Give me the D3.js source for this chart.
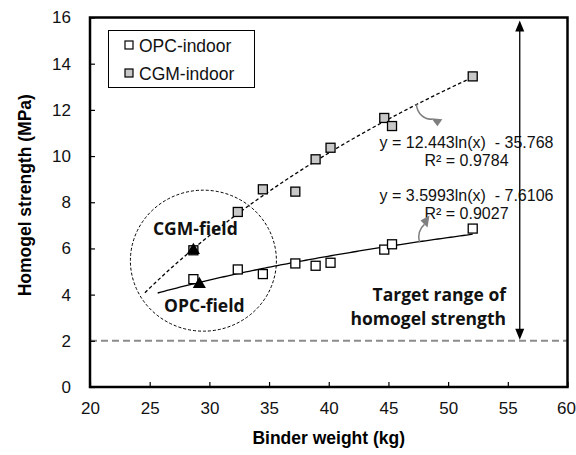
<!DOCTYPE html>
<html><head><meta charset="utf-8">
<script src="https://cdn.jsdelivr.net/npm/d3@7"></script>
<style>
html,body{margin:0;padding:0;background:#fff;}
svg{display:block;font-family:"Liberation Sans",Arial,sans-serif;}
</style></head>
<body>
<script>
// ---- data ----
const xTicks = [20,25,30,35,40,45,50,55,60];
const yTicks = [0,2,4,6,8,10,12,14,16];
const opcIndoorX = [28.66,32.38,34.48,37.2,38.9,40.15,44.65,45.3,52.06];
const opcIndoorY = [4.67,5.09,4.89,5.35,5.25,5.38,5.95,6.18,6.86];
const cgmIndoorX = [28.66,32.38,34.48,37.2,38.9,40.15,44.65,45.3,52.06];
const cgmIndoorY = [5.92,7.58,8.56,8.46,9.86,10.36,11.65,11.3,13.45];
const fieldLabels = ["CGM-field","OPC-field"];
const fieldX = [28.66,29.16];
const fieldY = [5.92,4.45];
const cgmFit = {a:12.443, b:-35.768, from:24.6, to:52.06};
const opcFit = {a:3.5993, b:-7.6106, from:25.67, to:52.06};
const eqTexts = ["y = 12.443ln(x)  - 35.768","R² = 0.9784","y = 3.5993ln(x)  - 7.6106","R² = 0.9027"];
const targetLevel = 2;
const targetTop = 16;
const targetX = 56;
const legendLabels = ["OPC-indoor","CGM-indoor"];

// ---- layout ----
const W=576,H=455;
const x = d3.scaleLinear().domain([20,60]).range([90,567.5]);
const y = d3.scaleLinear().domain([0,16]).range([387,17.5]);
const svg = d3.select("body").append("svg").attr("width",W).attr("height",H);

// target dashed line
svg.append("line").attr("x1",x(20)).attr("x2",x(60)).attr("y1",y(targetLevel)).attr("y2",y(targetLevel))
  .attr("stroke","#8c8c8c").attr("stroke-width",2).attr("stroke-dasharray","7,4");

// axes
const xAxis = d3.axisBottom(x).tickValues(xTicks).tickSizeInner(-5).tickSizeOuter(0).tickPadding(15);
const yAxis = d3.axisLeft(y).tickValues(yTicks).tickSizeInner(-5).tickSizeOuter(0).tickPadding(19);
const gx = svg.append("g").attr("transform",`translate(0,${y(0)})`).call(xAxis);
const gy = svg.append("g").attr("transform",`translate(${x(20)},0)`).call(yAxis);
[gx,gy].forEach(g=>{
  g.attr("font-family",null).attr("font-size",null);
  g.select(".domain").remove();
  g.selectAll(".tick line").attr("stroke","#000").attr("stroke-width",1.2);
  g.selectAll(".tick text").style("font-size","17px").attr("fill","#111");
});
gx.selectAll(".tick text").attr("dy","0.71em").attr("dx",(d,i)=>i===xTicks.length-1?-1.5:0);
// frame
svg.append("rect").attr("x",x(20)).attr("y",y(16)).attr("width",x(60)-x(20)).attr("height",y(0)-y(16))
  .attr("fill","none").attr("stroke","#000").attr("stroke-width",2.5);

// axis titles
svg.append("text").attr("x",(x(20)+x(60))/2).attr("y",444).attr("text-anchor","middle")
  .style("font-size","17.5px").attr("font-weight","bold").text("Binder weight (kg)");
svg.append("text").attr("transform",`translate(31,${(y(0)+y(16))/2-7}) rotate(-90)`).attr("text-anchor","middle")
  .style("font-size","17.5px").attr("font-weight","bold").text("Homogel strength (MPa)");

// trend lines
function fitPts(f){return d3.range(0,101).map(i=>{const xv=f.from+(f.to-f.from)*i/100;return [xv,f.a*Math.log(xv)+f.b];});}
const line = d3.line().x(d=>x(d[0])).y(d=>y(d[1]));
svg.append("path").attr("d",line(fitPts(cgmFit))).attr("fill","none").attr("stroke","#000").attr("stroke-width",1.3).attr("stroke-dasharray","3.5,2.5");
svg.append("path").attr("d",line(fitPts(opcFit))).attr("fill","none").attr("stroke","#000").attr("stroke-width",1.3);

// dashed circle around field points
const cx = 29.5, cy = 5.47;
svg.append("ellipse").attr("cx",x(cx)).attr("cy",y(cy)).attr("rx",73).attr("ry",70.5)
  .attr("fill","none").attr("stroke","#000").attr("stroke-width",1).attr("stroke-dasharray","3,2");

// markers
const S=9;
function squares(xs,ys,fill){
  svg.append("g").selectAll("rect").data(xs.map((v,i)=>[v,ys[i]])).join("rect")
    .attr("x",d=>x(d[0])-S/2).attr("y",d=>y(d[1])-S/2).attr("width",S).attr("height",S)
    .attr("fill",fill).attr("stroke","#000").attr("stroke-width",1.3);
}
squares(cgmIndoorX,cgmIndoorY,"#c8c8c8");
squares(opcIndoorX,opcIndoorY,"#fff");
svg.append("g").selectAll("path").data(fieldX.map((v,i)=>[v,fieldY[i]])).join("path")
  .attr("d",d3.symbol(d3.symbolTriangle,75)).attr("transform",d=>`translate(${x(d[0])},${y(d[1])})`).attr("fill","#000");

// field labels
const lblFont = "'Open Sans','Noto Sans',sans-serif";
function boldLabel(px,py,anchor,t){
  svg.append("text").attr("x",px).attr("y",py).attr("text-anchor",anchor)
    .style("font-family",lblFont).style("font-weight","bold").style("font-size","17.5px").attr("fill","#111").text(t);
}
boldLabel(x(fieldX[0])+2,y(fieldY[0])-15,"middle",fieldLabels[0]);
boldLabel(x(fieldX[1])+5,y(fieldY[1])+28,"middle",fieldLabels[1]);

// equations
const eqX = 466.5;
const eqYs = [148,166,201,219];
eqTexts.forEach((t,i)=>{
  svg.append("text").attr("x",eqX).attr("y",eqYs[i]).attr("text-anchor","middle").style("font-size","16px")
    .style("white-space","pre").attr("fill","#111").text(t);
});

// curved grey arrows
const grey="#7f7f7f";
function curvedArrow(ax,ay,p,tri){
  const ox=x(ax), oy=y(ay);
  svg.append("path").attr("d",`M${ox+p[0]},${oy+p[1]} C${ox+p[2]},${oy+p[3]} ${ox+p[4]},${oy+p[5]} ${ox+p[6]},${oy+p[7]}`)
    .attr("fill","none").attr("stroke",grey).attr("stroke-width",1.5);
  svg.append("path").attr("d","M"+tri.map(q=>`${ox+q[0]},${oy+q[1]}`).join("L")+"Z").attr("fill",grey);
}
curvedArrow(47.34,12.24,[0,0, 1,10, 8,15, 16,15],[[15,14],[26,15],[21,22]]);
curvedArrow(47.6,6.26,[0,0, -2,-7, 0,-14, 5,-18],[[1,-22],[10,-27],[8,-15]]);

// double arrow target range
const ax = x(targetX);
svg.append("line").attr("x1",ax).attr("x2",ax).attr("y1",y(targetTop)+10).attr("y2",y(targetLevel)-10).attr("stroke","#000").attr("stroke-width",1.3);
svg.append("path").attr("d",`M${ax},${y(targetTop)+3}L${ax-4.5},${y(targetTop)+14}L${ax+4.5},${y(targetTop)+14}Z`).attr("fill","#000");
svg.append("path").attr("d",`M${ax},${y(targetLevel)-1}L${ax-4.5},${y(targetLevel)-12}L${ax+4.5},${y(targetLevel)-12}Z`).attr("fill","#000");
boldLabel(506,301,"end","Target range of");
boldLabel(506,325,"end","homogel strength");

// legend
const lg = svg.append("g");
lg.append("rect").attr("x",108.5).attr("y",30.5).attr("width",146).attr("height",57).attr("fill","#fff").attr("stroke","#000").attr("stroke-width",1);
const fills=["#fff","#c8c8c8"];
legendLabels.forEach((t,i)=>{
  const ly = 45+i*28;
  lg.append("rect").attr("x",129-4).attr("y",ly-4).attr("width",8).attr("height",8).attr("fill",fills[i]).attr("stroke","#000").attr("stroke-width",1.2);
  lg.append("text").attr("x",139).attr("y",ly+6.5).style("font-size","17.5px").attr("fill","#111").text(t);
});
</script>
</body></html>
